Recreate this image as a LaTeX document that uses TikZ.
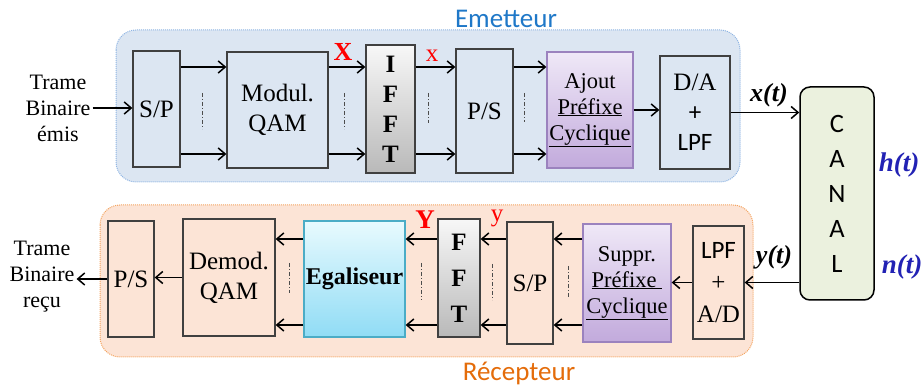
\documentclass[tikz,border=0pt]{standalone}
\usepackage{fontspec}
\setmainfont{Liberation Serif}
\newfontfamily\calibri{Carlito}
\usepackage{xcolor}
\usetikzlibrary{positioning,arrows.meta,shadows}

\definecolor{emfill}{HTML}{DCE6F2}
\definecolor{emline}{HTML}{8EB4E3}
\definecolor{emtext}{HTML}{1F78C8}
\definecolor{refill}{HTML}{FCE4D6}
\definecolor{reline}{HTML}{F4A460}
\definecolor{retext}{HTML}{E46C0A}
\definecolor{cptop}{HTML}{EFE8F7}
\definecolor{cpbot}{HTML}{C2AADC}
\definecolor{cpline}{HTML}{9B82BE}
\definecolor{eqtop}{HTML}{E8FAFE}
\definecolor{eqbot}{HTML}{90DCF5}
\definecolor{eqline}{HTML}{4BACC6}
\definecolor{canalfill}{HTML}{EBF1DE}
\definecolor{sigblue}{HTML}{2222B4}

\begin{document}
\begin{tikzpicture}[
		x=1pt,y=-1pt,
		>={Straight Barb[length=7pt,width=12pt]},
		blk/.style={
			draw=black!75,
			line width=1.3pt,
			inner sep=0pt,
			align=center,
			font=\fontsize{25}{30}\selectfont,
			drop shadow={opacity=0.2,shadow xshift=1.2pt,shadow yshift=-1.2pt}
		},
		fftblk/.style={blk,top color=gray!6,bottom color=gray!55,
			font=\bfseries\fontsize{25}{30}\selectfont},
		cpblk/.style={blk,draw=cpline,top color=cptop,bottom color=cpbot,
			font=\fontsize{22.5}{26}\selectfont},
		eqblk/.style={blk,draw=eqline,top color=eqtop,bottom color=eqbot,
			font=\bfseries\fontsize{24}{28}\selectfont},
		txt/.style={align=center,inner sep=2pt,font=\fontsize{22}{26}\selectfont},
		arr/.style={->,line width=1.5pt},
		sep/.style={line width=0.8pt,black!70,dash pattern=on 4pt off 2pt on 1pt off 2pt},
		panel/.style={rounded corners=20pt,line width=1pt,densely dotted}
		]
		\useasboundingbox (0,0) rectangle (924,387);
		
		% panels
		\draw[panel,draw=emline,fill=emfill] (116,30) rectangle (740,182);
		\draw[panel,draw=reline,fill=refill] (100,205) rectangle (753,357);
		
		\node[text=emtext,font=\calibri\fontsize{27}{27}\selectfont]
		(em) at (506,19) {Emetteur};
		\node[text=retext,font=\calibri\fontsize{27}{27}\selectfont]
		(re) at (519,373) {Récepteur};
		
		% emetteur
		\node[txt] (tin) at (58,108) {Trame\\Binaire\\émis};
		
		\node[blk,fill=emfill,minimum width=47pt,minimum height=116pt]
		(sp1) at (156.5,109) {S/P};
		
		\node[blk,fill=emfill,minimum width=101pt,minimum height=116pt]
		(mod) at (277.5,110) {Modul.\\QAM};
		
		\node[fftblk,minimum width=49pt,minimum height=128pt]
		(ifft) at (390.5,109) {I\\F\\F\\T};
		
		\node[blk,fill=emfill,minimum width=57pt,minimum height=124pt]
		(ps1) at (484.5,111) {P/S};
		
		\node[cpblk,minimum width=86pt,minimum height=116pt]
		(cp1) at (590,110) {Ajout\\\underline{Préfixe}\\\underline{Cyclique}};
		
		\node[blk,fill=emfill,minimum width=70pt,minimum height=113pt]
		(da) at (695,112.5) {D/A\\{\calibri +}\\{\calibri LPF}};
		
		% canal
		\node[draw=black,line width=1.5pt,rounded corners=10pt,fill=canalfill,
		align=center,font=\calibri\fontsize{26.5}{35}\selectfont,
		minimum width=74pt,minimum height=213pt]
		(ch) at (837,193.5) {C\\A\\N\\A\\L};
		
		% recepteur
		\node[txt] (tout) at (42,277) {Trame\\Binaire\\reçu};
		
		\node[blk,fill=refill,minimum width=46pt,minimum height=116pt]
		(ps2) at (131,279) {P/S};
		
		\node[blk,fill=refill,minimum width=92pt,minimum height=117pt]
		(demod) at (229,277.5) {Demod.\\QAM};
		
		\node[eqblk,minimum width=101pt,minimum height=116pt]
		(eq) at (354.5,279) {Egaliseur};
		
		\node[fftblk,minimum width=42pt,minimum height=118pt,
		font=\bfseries\fontsize{25}{36}\selectfont]
		(fft) at (459,278) {F\\F\\T};
		
		\node[blk,fill=refill,minimum width=46pt,minimum height=122pt]
		(sp2) at (530,283) {S/P};
		
		\node[cpblk,minimum width=88pt,minimum height=118pt]
		(cp2) at (627,283) {Suppr.\\\underline{Préfixe }\\\underline{Cyclique}};
		
		\node[blk,fill=refill,minimum width=51pt,minimum height=113pt,
		font=\fontsize{25}{32}\selectfont]
		(ad) at (718.5,282.5) {{\calibri LPF}\\+\\A/D};
		
		% rails
		\coordinate (hi) at (0,67);
		\coordinate (lo) at (0,154);
		\coordinate (hib) at (0,239);
		\coordinate (lob) at (0,325);
		
		\draw[arr] (tin.east) -- (sp1.west |- tin.east);
		\draw[arr] (sp1.east |- hi) -- (mod.west |- hi);
		\draw[arr] (sp1.east |- lo) -- (mod.west |- lo);
		\draw[arr] (mod.east |- hi) -- (ifft.west |- hi);
		\draw[arr] (mod.east |- lo) -- (ifft.west |- lo);
		\draw[arr] (ifft.east |- hi) -- (ps1.west |- hi);
		\draw[arr] (ifft.east |- lo) -- (ps1.west |- lo);
		\draw[arr] (ps1.east |- hi) -- (cp1.west |- hi);
		\draw[arr] (ps1.east |- lo) -- (cp1.west |- lo);
		\draw[arr] (cp1.east) -- (da.west |- cp1.east);
		\draw[arr] (da.east) -- (ch.west |- da.east);
		
		\draw[arr] (ch.west |- ad.east) -- (ad.east);
		\draw[arr] (ad.west) -- (cp2.east |- ad.west);
		\draw[arr] (cp2.west |- hib) -- (sp2.east |- hib);
		\draw[arr] (cp2.west |- lob) -- (sp2.east |- lob);
		\draw[arr] (sp2.west |- hib) -- (fft.east |- hib);
		\draw[arr] (sp2.west |- lob) -- (fft.east |- lob);
		\draw[arr] (fft.west |- hib) -- (eq.east |- hib);
		\draw[arr] (fft.west |- lob) -- (eq.east |- lob);
		\draw[arr] (eq.west |- hib) -- (demod.east |- hib);
		\draw[arr] (eq.west |- lob) -- (demod.east |- lob);
		\draw[arr] (demod.west) -- (ps2.east |- demod.west);
		\draw[arr] (ps2.west) -- (tout.east |- ps2.west);
		
		% parallel branches
		\draw[sep] (202,93) -- (202,129);
		\draw[sep] (344,93) -- (344,129);
		\draw[sep] (428,93) -- (428,123);
		\draw[sep] (524,93) -- (524,122);
		\draw[sep] (289,263) -- (289,293);
		\draw[sep] (421,263) -- (421,300);
		\draw[sep] (492,264) -- (492,300);
		\draw[sep] (568,266) -- (568,297);
		
		% signals
		\node[text=red,font=\bfseries\fontsize{26}{26}\selectfont]
		(sX) at (343,52) {X};
		\node[text=red,font=\fontsize{25}{25}\selectfont]
		(sx) at (432,56) {x};
		\node[text=red,font=\bfseries\fontsize{27}{27}\selectfont]
		(sY) at (425,220) {Y};
		\node[text=red,font=\fontsize{25}{25}\selectfont]
		(sy) at (497,218) {y};
		\node[font=\bfseries\itshape\fontsize{26}{26}\selectfont]
		(xt) at (769,95) {x(t)};
		\node[font=\bfseries\itshape\fontsize{26}{26}\selectfont]
		(yt) at (774,257) {y(t)};
		\node[text=sigblue,font=\bfseries\itshape\fontsize{27}{27}\selectfont]
		(ht) at (899,165) {h(t)};
		\node[text=sigblue,font=\bfseries\itshape\fontsize{27}{27}\selectfont]
		(nt) at (902,267) {n(t)};
		
	\end{tikzpicture}
\end{document}
